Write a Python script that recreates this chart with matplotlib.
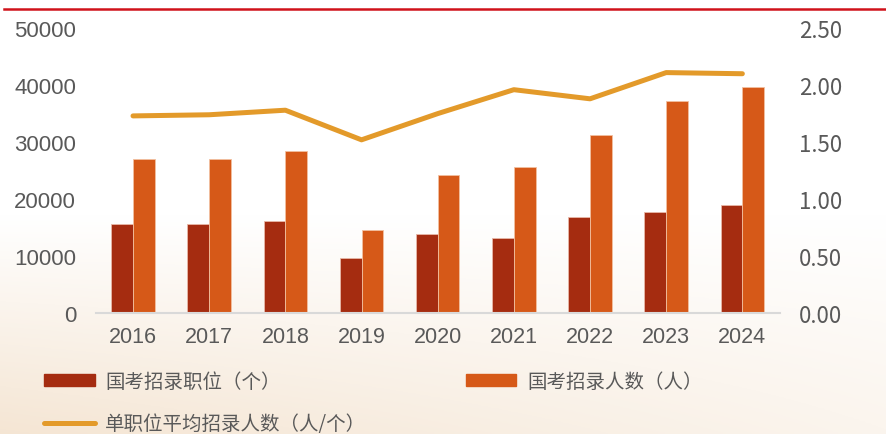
import numpy as np
import matplotlib
matplotlib.use('Agg')
from matplotlib import pyplot as plt
from matplotlib.lines import Line2D
from matplotlib.patches import Patch

plt.rcParams['font.family'] = ['Liberation Sans', 'Noto Sans CJK SC', 'DejaVu Sans']

years = ['2016', '2017', '2018', '2019', '2020', '2021', '2022', '2023', '2024']
positions = [15700, 15600, 16100, 9600, 13800, 13200, 16800, 17700, 18900]
recruits = [27000, 27100, 28500, 14500, 24200, 25700, 31300, 37300, 39600]
per_position = [1.73, 1.74, 1.78, 1.52, 1.75, 1.96, 1.88, 2.11, 2.10]

c_dark = '#A52C10'
c_orange = '#D65918'
c_line = '#E39A2A'
c_text = '#595959'

fig = plt.figure(figsize=(8.86, 4.35), dpi=100)

# background: white top fading to warm beige at the bottom
bg = fig.add_axes([0, 0, 1, 1], zorder=-10)
yy = np.linspace(0, 1, 200)[:, None]
xx = np.linspace(0, 1, 300)[None, :]
w = np.clip((yy - 0.5) / 0.5, 0, 1) * (1 - 0.6 * xx)
top = np.array([1.0, 1.0, 1.0])
bot = np.array([0.96, 0.90, 0.83])
img = top[None, None, :] * (1 - w[..., None]) + bot[None, None, :] * w[..., None]
bg.imshow(img, aspect='auto', extent=[0, 1, 0, 1], origin='upper')
bg.axis('off')
bg.plot([0.005, 1], [0.978, 0.978], color='#D0121B', lw=1.8, transform=bg.transAxes)

ax = fig.add_axes([0.108, 0.278, 0.772, 0.655])
ax.patch.set_alpha(0)
x = np.arange(len(years))
bw = 0.285
ax.bar(x - bw / 2, positions, bw, color=c_dark, edgecolor='#E8B8A8', linewidth=0.6, zorder=2)
ax.bar(x + bw / 2, recruits, bw, color=c_orange, edgecolor='#F2C0A0', linewidth=0.6, zorder=2)
ax.set_xlim(-0.49, 8.49)
ax.set_ylim(0, 50000)
ax.set_yticks(range(0, 50001, 10000))
ax.set_yticklabels([str(v) for v in range(0, 50001, 10000)])
ax.set_xticks(x)
ax.set_xticklabels(years)
for s in ['top', 'right', 'left']:
    ax.spines[s].set_visible(False)
ax.spines['bottom'].set_color('#D9D9D9')
ax.spines['bottom'].set_linewidth(1.5)
ax.tick_params(axis='y', length=0, labelsize=16, colors=c_text, pad=14)
ax.tick_params(axis='x', length=0, labelsize=15.5, colors=c_text, pad=9)

ax2 = ax.twinx()
ax2.plot(x, per_position, color=c_line, lw=3.6, solid_capstyle='round', zorder=3)
ax2.set_ylim(0, 2.5)
ax2.set_yticks(np.arange(0, 2.51, 0.5))
ax2.set_yticklabels(['%.2f' % v for v in np.arange(0, 2.51, 0.5)],
                    family=['Noto Sans CJK SC', 'DejaVu Sans'])
for s in ax2.spines.values():
    s.set_visible(False)
ax2.tick_params(axis='y', length=0, labelsize=16, colors=c_text, pad=14)

# column-major fill: first column holds dark bar + line, second the orange bar
handles = [Patch(color=c_dark),
           Line2D([0], [0], color=c_line, lw=3.6, solid_capstyle='round'),
           Patch(color=c_orange)]
labels = ['国考招录职位（个）', '单职位平均招录人数（人/个）', '国考招录人数（人）']
leg = fig.legend(handles, labels, ncol=2, loc='upper left', bbox_to_anchor=(0.03, 0.186),
                 frameon=False, handlelength=2.6, handleheight=0.55, handletextpad=0.55,
                 columnspacing=5.1, labelspacing=1.1,
                 prop={'family': 'Noto Sans CJK SC', 'size': 14})
for t in leg.get_texts():
    t.set_color(c_text)

fig.savefig('out.png', dpi=100)
